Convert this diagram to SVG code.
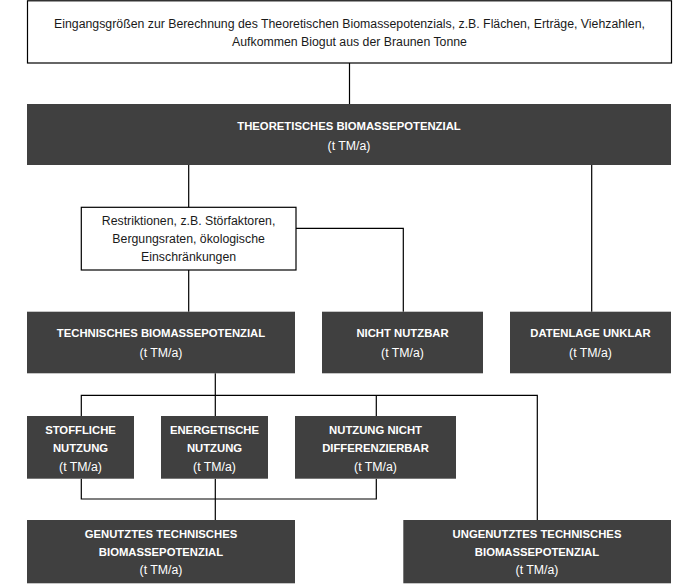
<svg xmlns="http://www.w3.org/2000/svg" width="700" height="585" viewBox="0 0 700 585">
  <style>
    .dark { fill: #404040; }
    .white { fill: #ffffff; stroke: #000000; stroke-width: 1.2; }
    .hd { font-family: "Liberation Sans", Arial, sans-serif; font-weight: bold; font-size: 11.3px; fill: #ffffff; text-anchor: middle; }
    .sub { font-family: "Liberation Sans", Arial, sans-serif; font-size: 12.3px; fill: #ffffff; text-anchor: middle; }
    .txt { font-family: "Liberation Sans", Arial, sans-serif; font-size: 12.3px; fill: #1a1a1a; text-anchor: middle; }
    .conn { fill: none; stroke: #000000; stroke-width: 1.2; }
  </style>
  <rect x="0" y="0" width="700" height="585" fill="#ffffff"/>
  <g id="connectors">
    <path class="conn" d="M349.5 63 V104"/>
    <path class="conn" d="M188.7 165 V207.3"/>
    <path class="conn" d="M591.7 165 V311.7"/>
    <path class="conn" d="M296 228.3 H403.3 V311.7"/>
    <path class="conn" d="M188.7 270 V311.7"/>
    <path class="conn" d="M215.3 373.3 V416"/>
    <path class="conn" d="M81.3 416 V395.3 H537.3 V520"/>
    <path class="conn" d="M376.3 395.3 V416"/>
    <path class="conn" d="M81.3 478.7 V499 H376.3 V478.7"/>
    <path class="conn" d="M215.3 478.7 V520"/>
  </g>
  <g id="input">
    <rect class="white" x="27.5" y="0.8" width="644" height="62.2" stroke-width="1.5"/>
    <text class="txt" x="349.5" y="27.5">Eingangsgrößen zur Berechnung des Theoretischen Biomassepotenzials, z.B. Flächen, Erträge, Viehzahlen,</text>
    <text class="txt" x="349.5" y="45.8">Aufkommen Biogut aus der Braunen Tonne</text>
  </g>
  <g id="theoretical">
    <rect class="dark" x="27" y="104" width="644" height="61"/>
    <text class="hd" x="349" y="130">THEORETISCHES BIOMASSEPOTENZIAL</text>
    <text class="sub" x="349" y="149.5">(t TM/a)</text>
  </g>
  <g id="restrictions">
    <rect class="white" x="81.3" y="207.3" width="214.7" height="62.7"/>
    <text class="txt" x="188.6" y="225.3">Restriktionen, z.B. Störfaktoren,</text>
    <text class="txt" x="188.6" y="243.3">Bergungsraten, ökologische</text>
    <text class="txt" x="188.6" y="261">Einschränkungen</text>
  </g>
  <g id="technical">
    <rect class="dark" x="27" y="311.7" width="268" height="61.6"/>
    <text class="hd" x="161" y="337.4">TECHNISCHES BIOMASSEPOTENZIAL</text>
    <text class="sub" x="161" y="356.6">(t TM/a)</text>
  </g>
  <g id="not-usable">
    <rect class="dark" x="322" y="311.7" width="161" height="61.6"/>
    <text class="hd" x="402.5" y="337.4">NICHT NUTZBAR</text>
    <text class="sub" x="402.5" y="356.6">(t TM/a)</text>
  </g>
  <g id="unclear">
    <rect class="dark" x="510" y="311.7" width="161" height="61.6"/>
    <text class="hd" x="590.5" y="337.4">DATENLAGE UNKLAR</text>
    <text class="sub" x="590.5" y="356.6">(t TM/a)</text>
  </g>
  <g id="material">
    <rect class="dark" x="27" y="416" width="107" height="62.7"/>
    <text class="hd" x="80.5" y="434">STOFFLICHE</text>
    <text class="hd" x="80.5" y="451.8">NUTZUNG</text>
    <text class="sub" x="80.5" y="471">(t TM/a)</text>
  </g>
  <g id="energetic">
    <rect class="dark" x="161" y="416" width="107" height="62.7"/>
    <text class="hd" x="214.5" y="434">ENERGETISCHE</text>
    <text class="hd" x="214.5" y="451.8">NUTZUNG</text>
    <text class="sub" x="214.5" y="471">(t TM/a)</text>
  </g>
  <g id="undifferentiated">
    <rect class="dark" x="295" y="416" width="161" height="62.7"/>
    <text class="hd" x="375.5" y="434">NUTZUNG NICHT</text>
    <text class="hd" x="375.5" y="451.8">DIFFERENZIERBAR</text>
    <text class="sub" x="375.5" y="471">(t TM/a)</text>
  </g>
  <g id="used">
    <rect class="dark" x="27" y="520" width="268" height="63.3"/>
    <text class="hd" x="161" y="538">GENUTZTES TECHNISCHES</text>
    <text class="hd" x="161" y="556">BIOMASSEPOTENZIAL</text>
    <text class="sub" x="161" y="574.3">(t TM/a)</text>
  </g>
  <g id="unused">
    <rect class="dark" x="403.3" y="520" width="267.7" height="63.3"/>
    <text class="hd" x="537" y="538">UNGENUTZTES TECHNISCHES</text>
    <text class="hd" x="537" y="556">BIOMASSEPOTENZIAL</text>
    <text class="sub" x="537" y="574.3">(t TM/a)</text>
  </g>
</svg>
